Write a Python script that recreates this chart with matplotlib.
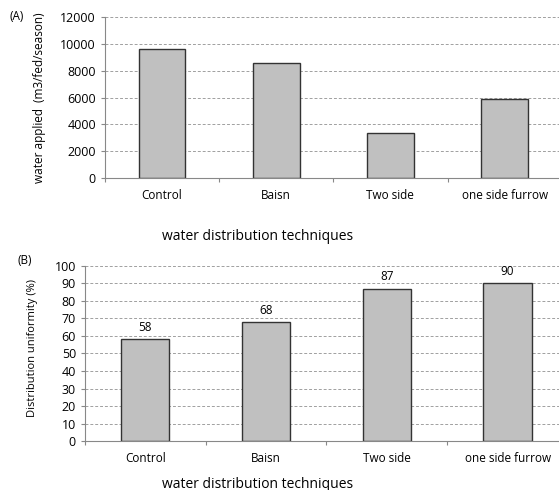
import numpy as np
import matplotlib.pyplot as plt

# 灌水方法ごとのデータ
techniques = ["Control", "Baisn", "Two side", "one side furrow"]
water_applied = [9650, 8550, 3330, 5860]      # m3/fed/season
uniformity = [58, 68, 87, 90]                  # %

plt.rcParams['font.family'] = ['Open Sans', 'DejaVu Sans']

W, H = 559, 490
fig = plt.figure(figsize=(W / 100, H / 100), dpi=100)
ax1 = fig.add_axes([0.1878, 0.6367, 0.817, 0.3286])
ax2 = fig.add_axes([0.152, 0.0994, 0.864, 0.3584])

x = np.arange(len(techniques))


def style_axis(ax, ymax, step):
    ax.set_xlim(-0.5, len(techniques) - 0.5)
    ax.set_ylim(0, ymax)
    ax.set_yticks(np.arange(0, ymax + 1, step))
    ax.yaxis.grid(True, linestyle=(0, (3, 2)), color="#a0a0a0", linewidth=0.7)
    ax.set_axisbelow(True)
    for s in ["top", "right"]:
        ax.spines[s].set_visible(False)
    ax.spines["left"].set_color("#888888")
    ax.spines["bottom"].set_color("#888888")
    # 目盛りは区切り位置に付ける
    ax.set_xticks(np.arange(-0.5, len(techniques) + 0.5, 1.0))
    ax.set_xticklabels([])
    ax.set_xticks(x, minor=True)
    ax.set_xticklabels(techniques, minor=True, fontsize=8.5)
    ax.tick_params(axis="x", which="minor", length=0, pad=8)
    ax.tick_params(axis="x", which="major", length=3, color="#888888")
    ax.tick_params(axis="y", length=3, color="#888888", labelsize=9)


def place(ax, px, py):
    # 図のピクセル位置を軸座標に変換
    return ax.transAxes.inverted().transform(fig.transFigure.transform((px / W, 1 - py / H)))


# (A) 灌水量
ax1.bar(x, water_applied, width=0.41, color="#c0c0c0", edgecolor="#333333", linewidth=1.0)
style_axis(ax1, 12000, 2000)
ax1.set_ylabel("water applied  (m3/fed/season)", fontsize=8.5, va="center")
ax1.yaxis.set_label_coords(*place(ax1, 40, 98))
ax1.set_xlabel("water distribution techniques", fontsize=10)
ax1.xaxis.set_label_coords(*place(ax1, 258, 237))
ax1.xaxis.label.set_va("center")
fig.text(10 / W, 1 - 17 / H, "(A)", fontsize=8.5, va="center")

# (B) 分布均一性
ax2.bar(x, uniformity, width=0.40, color="#c0c0c0", edgecolor="#333333", linewidth=1.0)
style_axis(ax2, 100, 10)
for xi, v in zip(x, uniformity):
    ax2.text(xi, v + 3, str(v), ha="center", va="bottom", fontsize=8.5)
ax2.set_ylabel("Distribution uniformity (%)", fontsize=8, va="center")
ax2.yaxis.set_label_coords(*place(ax2, 33, 348))
ax2.set_xlabel("water distribution techniques", fontsize=10)
ax2.xaxis.set_label_coords(*place(ax2, 258, 484))
ax2.xaxis.label.set_va("center")
fig.text(17 / W, 1 - 261 / H, "(B)", fontsize=8.5, va="center")

fig.savefig("out.png", dpi=100)
